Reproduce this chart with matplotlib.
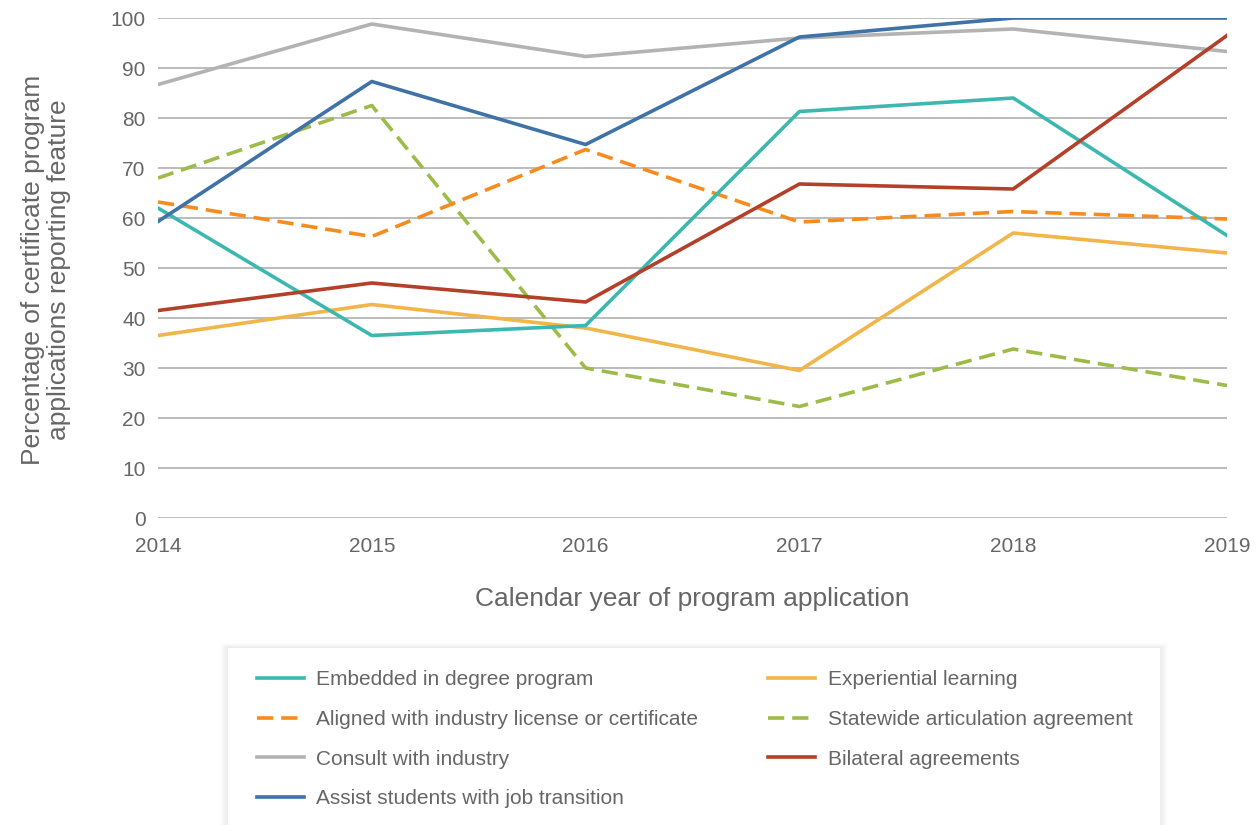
import matplotlib.pyplot as plt
from matplotlib.patches import FancyBboxPatch

plt.rcParams['font.family'] = ['Liberation Sans', 'DejaVu Sans']

years = [2014, 2015, 2016, 2017, 2018, 2019]
embedded = [62.0, 36.5, 38.5, 81.3, 84.0, 56.5]
aligned = [63.2, 56.3, 73.7, 59.2, 61.3, 59.8]
consult = [86.7, 98.8, 92.3, 96.0, 97.8, 93.3]
assist = [59.3, 87.3, 74.7, 96.2, 100.0, 100.0]
experiential = [36.5, 42.7, 38.0, 29.5, 57.0, 53.0]
statewide = [68.0, 82.5, 30.0, 22.3, 33.8, 26.5]
bilateral = [41.5, 47.0, 43.2, 66.8, 65.8, 96.5]

text_col = '#666666'
grid_col = '#b0b0b0'

fig = plt.figure(figsize=(12.6, 8.25), dpi=100)
ax = fig.add_axes([158/1260, 1-518/825, (1227-158)/1260, 500/825])

lw = 2.6
dash = (4.5, 2.2)
# draw order roughly matching the reference layering
ax.plot(years, consult, color='#b3b3b3', lw=lw, label='Consult with industry', zorder=3)
ax.plot(years, statewide, color='#9dbb48', lw=lw, dashes=dash, label='Statewide articulation agreement', zorder=4)
ax.plot(years, aligned, color='#f68b1f', lw=lw, dashes=dash, label='Aligned with industry license or certificate', zorder=5)
ax.plot(years, experiential, color='#f1b54a', lw=lw, label='Experiential learning', zorder=6)
ax.plot(years, embedded, color='#3db8b0', lw=lw, label='Embedded in degree program', zorder=7)
ax.plot(years, bilateral, color='#b4402a', lw=lw, label='Bilateral agreements', zorder=8)
ax.plot(years, assist, color='#3f72a6', lw=lw, label='Assist students with job transition', zorder=9)

ax.set_xlim(2014, 2019)
ax.set_ylim(0, 100)
ax.set_yticks(range(0, 101, 10))
ax.set_xticks(years)
ax.yaxis.grid(True, color=grid_col, lw=1.2)
ax.set_axisbelow(True)
for s in ax.spines.values():
    s.set_visible(False)
ax.tick_params(length=0, labelsize=15, colors=text_col)
ax.tick_params(axis='x', pad=14)
ax.tick_params(axis='y', pad=9)

ax.set_xlabel('Calendar year of program application', fontsize=19, color=text_col, labelpad=22)
fig.text(46/1260, 1-270/825, 'Percentage of certificate program\napplications reporting feature',
         rotation=90, ha='center', va='center', fontsize=19, color=text_col, linespacing=1.15)

# legend box with soft shadow, cut off at the bottom like the original
x0, y0 = 228/1260, 1-648/825
w, h = (1160-228)/1260, 0.3
for i in range(6):
    e = 0.001 * (i + 1)
    fig.patches.append(FancyBboxPatch((x0 - e, y0 - h - e), w + 2*e, h + 2*e,
                                      boxstyle='square,pad=0', transform=fig.transFigure,
                                      facecolor='#000000', alpha=0.012, edgecolor='none', zorder=0))
fig.patches.append(FancyBboxPatch((x0, y0 - h), w, h, boxstyle='square,pad=0',
                                  transform=fig.transFigure, facecolor='white',
                                  edgecolor='none', zorder=1))

handles, labels = ax.get_legend_handles_labels()
order = ['Embedded in degree program', 'Aligned with industry license or certificate',
         'Consult with industry', 'Assist students with job transition',
         'Experiential learning', 'Statewide articulation agreement', 'Bilateral agreements']
hmap = dict(zip(labels, handles))
leg = fig.legend([hmap[k] for k in order], order, ncol=2, loc='upper left',
                 bbox_to_anchor=(257/1260, 1-670/825), frameon=False, fontsize=15,
                 handlelength=2.25, handletextpad=0.6, columnspacing=3.35,
                 labelspacing=1.0, borderaxespad=0, borderpad=0)
for t in leg.get_texts():
    t.set_color(text_col)

fig.savefig('out.png', dpi=100)
